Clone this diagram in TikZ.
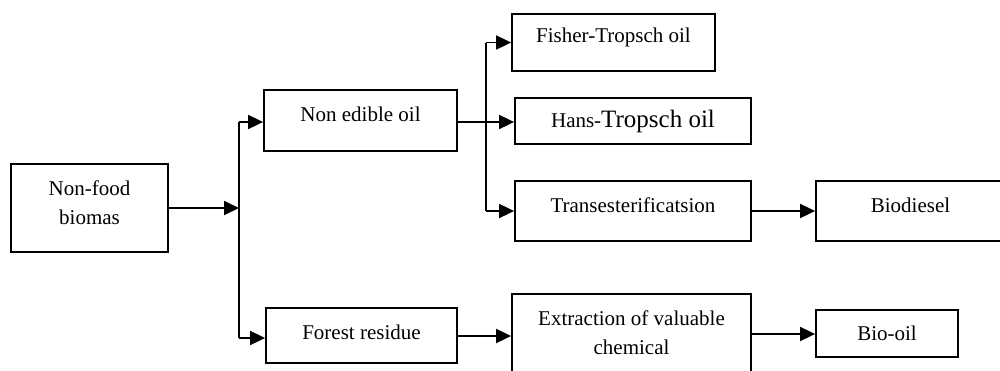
\documentclass[tikz,border=0pt]{standalone}
\usepackage{fontspec}
\setmainfont{Liberation Serif}
\usetikzlibrary{arrows.meta,positioning}

\begin{document}
\begin{tikzpicture}[x=0.5pt,y=-0.5pt,
    box/.style={draw, line width=0.9pt, align=center, inner sep=0pt,
        font=\fontsize{10.5}{14.5}\selectfont},
    lift/.style={text depth=#1},
    arr/.style={line width=0.9pt, -{Triangle[length=7.5pt,width=7pt]}}]
    \clip (0,0) rectangle (1000,370);
    % boxes
    \node[box, lift=5.5pt, minimum width=78.5pt, minimum height=44pt] (food) at (89.5,208) {Non-food\\biomas};
    \node[box, lift=6.5pt, minimum width=96.5pt, minimum height=30.5pt] (oil) at (360.5,120.5) {Non edible oil};
    \node[box, lift=3.5pt, minimum width=95.5pt, minimum height=27.5pt] (forest) at (361.5,335.5) {Forest residue};
    \node[box, lift=6.8pt, minimum width=101.5pt, minimum height=28.5pt] (fisher) at (613.5,42.5) {Fisher-Tropsch oil};
    \node[box, minimum width=118pt, minimum height=23pt] (hans) at (633,121) {Hans-{\fontsize{12.5}{14}\selectfont Tropsch oil}};
    \node[box, lift=6pt, minimum width=118pt, minimum height=30pt] (trans) at (633,211) {Transesterificatsion};
    \node[box, lift=6pt, minimum width=94.5pt, minimum height=30pt] (diesel) at (910.5,211) {Biodiesel};
    \node[box, lift=4.5pt, minimum width=119.5pt, minimum height=43pt] (extract) at (631.5,337) {Extraction of valuable\\chemical};
    \node[box, minimum width=71pt, minimum height=23.5pt] (biooil) at (887,333.5) {Bio-oil};
    % branch points
    \coordinate (j1) at (239,208);
    \coordinate (j1t) at (239,122);
    \coordinate (j1b) at (239,338);
    \coordinate (j2t) at (486,42.5);
    \coordinate (j2b) at (486,211);
    % connectors
    \draw[arr] (food.east) -- (j1);
    \draw[line width=0.9pt] (j1t) -- (j1b);
    \draw[arr] (j1t) -- (oil.west |- j1t);
    \draw[arr] (j1b) -- (forest.west |- j1b);
    \draw[arr] (oil.east |- 0,122) -- (hans.west |- 0,122);
    \draw[line width=0.9pt] (j2t) -- (j2b);
    \draw[arr] (j2t) -- (fisher.west);
    \draw[arr] (j2b) -- (trans.west);
    \draw[arr] (trans.east) -- (diesel.west);
    \draw[arr] (forest.east |- 0,336) -- (extract.west |- 0,336);
    \draw[arr] (extract.east |- 0,334) -- (biooil.west |- 0,334);
\end{tikzpicture}
\end{document}
